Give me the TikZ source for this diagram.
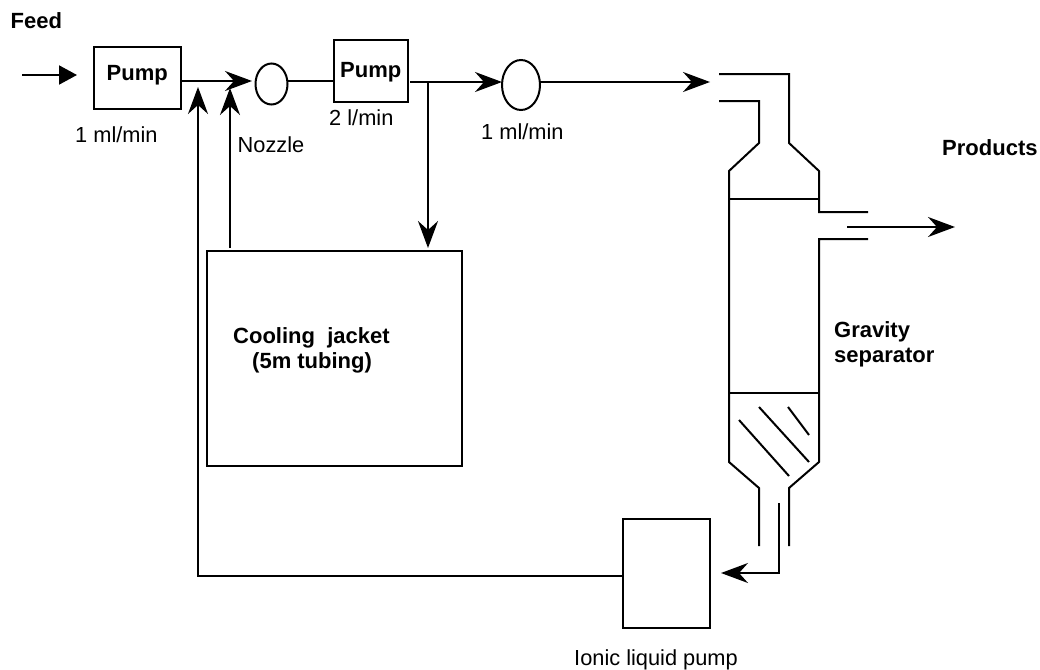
\documentclass[tikz,border=0pt]{standalone}
\usepackage{fontspec}
\setmainfont{Liberation Sans}
\usetikzlibrary{arrows.meta,calc,shapes.geometric}
\tikzset{
  box/.style={draw=black,line width=2pt,fill=white,inner sep=0pt,outer sep=0pt},
  valve/.style={draw=black,line width=2pt,ellipse,inner sep=0pt,outer sep=0pt},
  pipe/.style={line width=2pt,line cap=butt,line join=miter},
  flow/.style={pipe,-{Stealth[length=27pt,width=20pt,inset=9pt]}},
  solidflow/.style={pipe,-{Stealth[length=18pt,width=19pt,inset=0pt]}},
  lbl/.style={font=\fontsize{21.8}{25}\selectfont,inner sep=0pt,anchor=base west},
  blbl/.style={lbl,font=\fontsize{22}{25}\selectfont\bfseries}
}
\begin{document}
\begin{tikzpicture}[x=1pt,y=-1pt]
\useasboundingbox (0,0) rectangle (1040,669);
% equipment
\node[box,minimum width=87pt,minimum height=62pt] (pumpA) at (137.5,78) {};
\node[box,minimum width=74pt,minimum height=62pt] (pumpB) at (371,71) {};
\node[valve,minimum width=32pt,minimum height=41pt] (nozzle) at (271.5,84) {};
\node[valve,minimum width=38pt,minimum height=50pt] (valveB) at (521,85) {};
\node[box,minimum width=255pt,minimum height=215pt] (jacket) at (334.5,358.5) {};
\node[box,minimum width=87pt,minimum height=109pt] (ilpump) at (666.5,573.5) {};
% free ends
\coordinate (feedstart) at (22,75);
\coordinate (feedend) at (77,75);
\coordinate (pumpAout) at (182,81);
\coordinate (nozzletip) at (252,81);
\coordinate (pumpBout) at (410,82);
\coordinate (valvetip) at (502,82);
\coordinate (sepin) at (710,82);
\coordinate (prodstart) at (847,227);
\coordinate (prodend) at (955,227);
\coordinate (retcorner) at (198,576);
\coordinate (rettip) at (198,87);
\coordinate (jackfoot) at (230,248);
\coordinate (jacktip) at (230,88);
\coordinate (branch) at (428,82);
\coordinate (branchtip) at (428,248);
\coordinate (botstart) at (779,503);
\coordinate (botcorner) at (779,573);
\coordinate (bottip) at (721,573);
% connectors
\draw[solidflow] (feedstart) -- (feedend);
\draw[flow] (pumpAout) -- (nozzletip);
\draw[pipe] (nozzle.east |- 0,81) -- (pumpB.west |- 0,81);
\draw[flow] (pumpBout) -- (valvetip);
\draw[flow] (valveB.east |- 0,82) -- (sepin);
\draw[flow] (branch) -- (branchtip);
\draw[flow] (jackfoot) -- (jacktip);
\draw[flow] (ilpump.west |- retcorner) -- (retcorner) -- (rettip);
\draw[flow] (botstart) -- (botcorner) -- (bottip);
\draw[flow] (prodstart) -- (prodend);
% separator
\draw[pipe] (719,74) -- (789,74) -- (789,143) -- (819,171) -- (819,212) -- (868,212);
\draw[pipe] (719,101) -- (759,101) -- (759,143) -- (729,171) -- (729,462) -- (759,488) -- (759,546);
\draw[pipe] (868,239) -- (819,239) -- (819,462) -- (789,488) -- (789,546);
\draw[pipe] (729,199) -- (819,199);
\draw[pipe] (729,393) -- (819,393);
\draw[pipe] (739,420) -- (789,476);
\draw[pipe] (759,407) -- (809,462);
\draw[pipe] (788,407) -- (809,435);
% labels
\node[blbl] (lfeed) at (10.5,29) {Feed};
\node[blbl] (lpa) at (106.5,81) {Pump};
\node[blbl] (lpb) at (340,77) {Pump};
\node[lbl] (l1) at (75,142) {1 ml/min};
\node[lbl] (lnoz) at (237.5,152) {Nozzle};
\node[lbl] (l2) at (329,125) {2 l/min};
\node[lbl] (l3) at (481,139) {1 ml/min};
\node[blbl] (lprod) at (942,155) {Products};
\node[blbl] (lgrav) at (834,337) {Gravity};
\node[blbl] (lsep) at (834,362) {separator};
\node[blbl] (lcool) at (233,343) {Cooling\ \ jacket};
\node[blbl] (ltub) at (252,368) {(5m tubing)};
\node[lbl] (lion) at (574,665) {Ionic liquid pump};
\end{tikzpicture}
\end{document}
